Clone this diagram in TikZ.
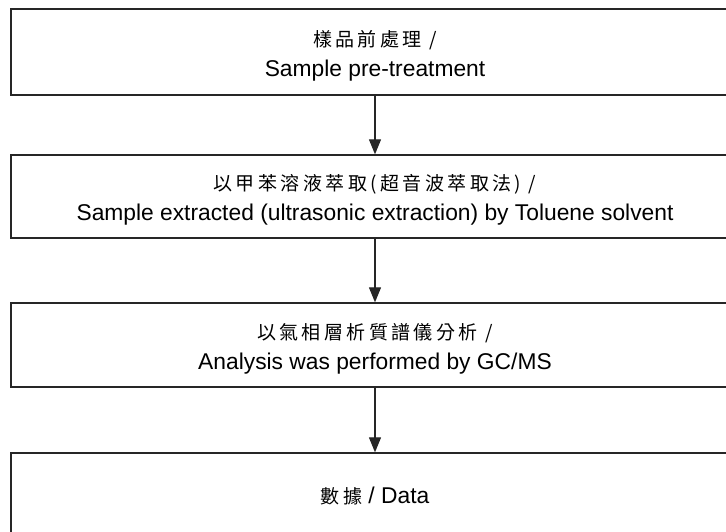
\documentclass[tikz,border=0pt]{standalone}
\usepackage{fontspec}
\setmainfont{Liberation Sans}
\newfontfamily\cjk[LetterSpace=18]{Noto Sans CJK TC}
\usetikzlibrary{arrows.meta}
\newcommand{\zhline}[1]{{\rule{0pt}{23pt}\cjk\fontsize{19}{30}\selectfont #1}}
\begin{document}
\begin{tikzpicture}[x=1pt,y=1pt,
  stepbox/.style={draw=black!85, line width=1.3pt, minimum width=728pt, inner sep=0pt, align=center,
    font=\fontsize{22.8}{30}\selectfont},
  flow/.style={draw=black!85, line width=1.2pt, -{Triangle[length=15pt,width=12pt]}}]
\useasboundingbox (0,0) rectangle (726,532);
\clip (0,0) rectangle (726,532);
\node[stepbox, minimum height=86pt] (b1) at (375,480) {\zhline{樣品前處理\ /}\\Sample pre-treatment};
\node[stepbox, minimum height=83pt] (b2) at (375,335.5) {\zhline{以甲苯溶液萃取(超音波萃取法) /}\\Sample extracted (ultrasonic extraction) by Toluene solvent};
\node[stepbox, minimum height=84pt] (b3) at (375,187) {\zhline{以氣相層析質譜儀分析\ /}\\Analysis was performed by GC/MS};
\node[stepbox, minimum height=86pt] (b4) at (375,36) {{\cjk\fontsize{19}{30}\selectfont 數據}\ / Data};
\draw[flow] (b1) -- (b2);
\draw[flow] (b2) -- (b3);
\draw[flow] (b3) -- (b4);
\end{tikzpicture}
\end{document}
